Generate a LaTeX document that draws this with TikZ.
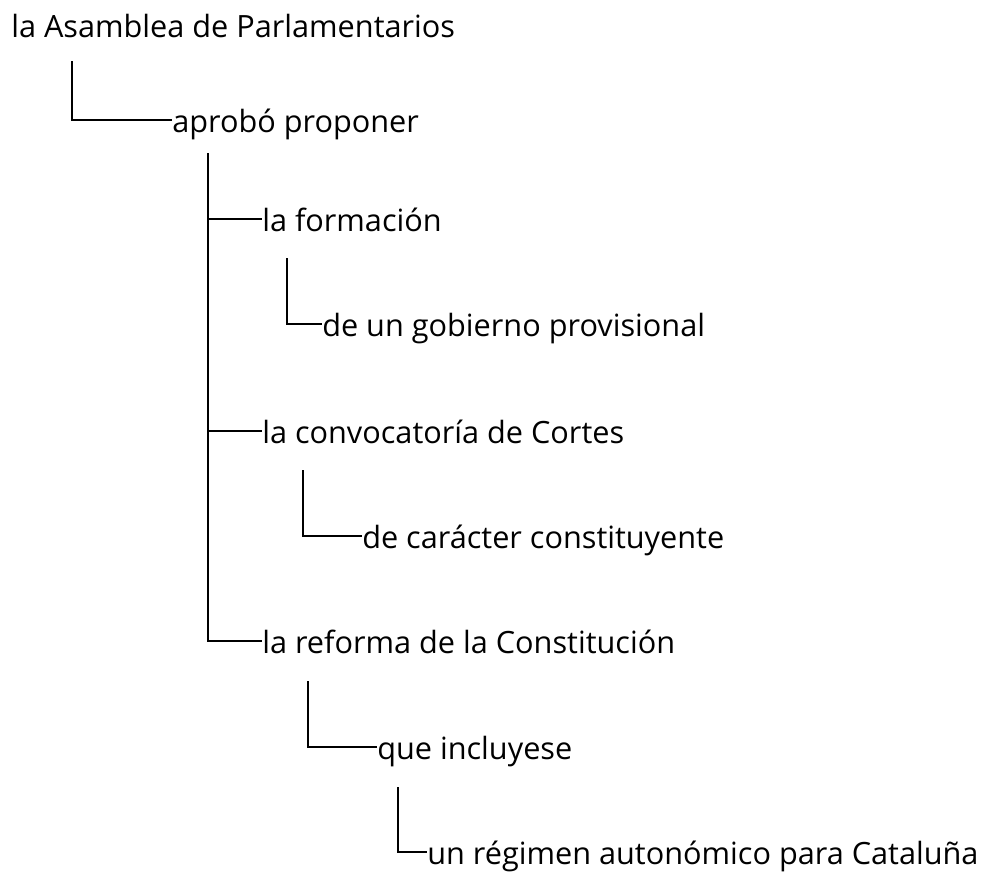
\documentclass[tikz,border=0pt]{standalone}
\usepackage{fontspec}
\setmainfont{Open Sans}
\usepackage{tikz}
\usetikzlibrary{positioning,calc}

\begin{document}
\begin{tikzpicture}[
    x=0.75pt, y=-0.75pt,
    phrase/.style={anchor=west, inner sep=0pt, text height=20pt, text depth=2pt, font=\fontsize{23}{27}\selectfont},
    branch/.style={line width=2pt, black}
]
\useasboundingbox (0,0) rectangle (982,872);

% Phrases
\node[phrase] (asamblea) at (11, 25) {la Asamblea de Parlamentarios};
\node[phrase] (aprobo) at (172, 120) {aprobó proponer};
\node[phrase] (formacion) at (262, 219) {la formación};
\node[phrase] (gobierno) at (322, 324) {de un gobierno provisional};
\node[phrase] (convocatoria) at (262, 431) {la convocatoría de Cortes};
\node[phrase] (caracter) at (362, 536) {de carácter constituyente};
\node[phrase] (reforma) at (262, 641) {la reforma de la Constitución};
\node[phrase] (incluyese) at (377, 747) {que incluyese};
\node[phrase] (regimen) at (427, 852) {un régimen autonómico para Cataluña};

% Tops of the vertical strokes
\coordinate (v0) at (72, 61);
\coordinate (v1) at (208, 153);
\coordinate (v2) at (287, 258);
\coordinate (v3) at (303, 470);
\coordinate (v4) at (308, 681);
\coordinate (v5) at (398, 787);

% Connectors
\draw[branch] (v0) |- (aprobo.west);
\draw[branch] (v1) |- (reforma.west);
\draw[branch] (v1 |- formacion.west) -- (formacion.west);
\draw[branch] (v1 |- convocatoria.west) -- (convocatoria.west);
\draw[branch] (v2) |- (gobierno.west);
\draw[branch] (v3) |- (caracter.west);
\draw[branch] (v4) |- (incluyese.west);
\draw[branch] (v5) |- (regimen.west);

\end{tikzpicture}
\end{document}
